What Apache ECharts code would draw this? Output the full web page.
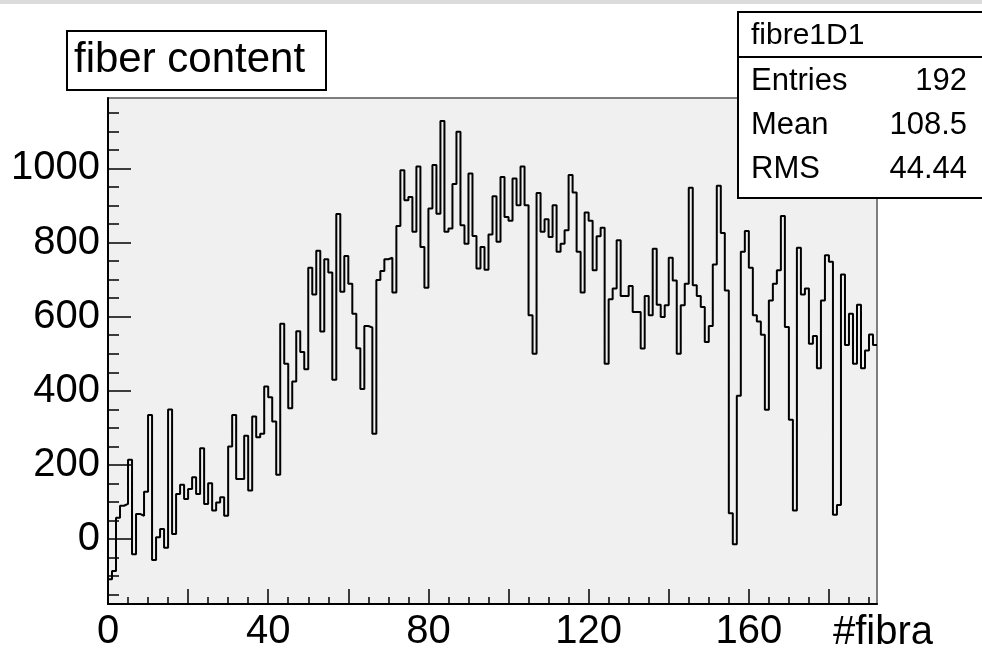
<!DOCTYPE html>
<html>
<head>
<meta charset="utf-8">
<script src="https://cdn.jsdelivr.net/npm/echarts@6/dist/echarts.min.js"></script>
<style>
html,body{margin:0;padding:0;background:#fff;}
#main{width:982px;height:655px;}
</style>
</head>
<body>
<div id="main"></div>
<script>
// Histogram "fibre1D1": content of each fibre bin (bin i spans [i, i+1))
const binContents = [
  -108, -86, 58, 90, 95, 214, -41, 68, 63, 128, 335, -56, 5, 27, -23, 350,
  14, 122, 147, 108, 135, 167, 122, 245, 95, 151, 77, 99, 113, 63, 250, 335,
  162, 162, 279, 131, 331, 275, 284, 412, 383, 317, 174, 581, 473, 353, 425, 561,
  505, 458, 732, 660, 778, 560, 755, 719, 430, 877, 667, 764, 689, 608, 515, 405,
  575, 571, 284, 699, 723, 755, 759, 665, 845, 995, 914, 923, 829, 1005, 788, 678,
  892, 1009, 878, 1128, 829, 838, 958, 1099, 847, 797, 986, 818, 730, 788, 727, 822,
  925, 802, 977, 869, 859, 973, 901, 1005, 901, 604, 500, 934, 829, 863, 815, 901,
  775, 797, 833, 982, 935, 775, 665, 881, 859, 725, 817, 840, 473, 647, 676, 806,
  656, 656, 683, 613, 613, 514, 656, 604, 783, 632, 599, 631, 759, 698, 500, 631,
  689, 948, 685, 656, 626, 532, 575, 741, 953, 826, 671, 70, -14, 387, 775, 831,
  732, 604, 587, 551, 349, 644, 689, 725, 872, 572, 322, 77, 786, 660, 676, 527,
  548, 461, 644, 766, 748, 66, 92, 714, 524, 608, 473, 632, 461, 509, 552, 524
];
const xMin = 0, xMax = 192;
const yMin = -175, yMax = 1190;
const xLabelValues = [0, 40, 80, 120, 160];
const xMajorTicks = [0, 20, 40, 60, 80, 100, 120, 140, 160, 180];
const xMinorTicks = [5,10,15,25,30,35,45,50,55,65,70,75,85,90,95,105,110,115,125,130,135,145,150,155,165,170,175,185,190];
const yLabelValues = [0, 200, 400, 600, 800, 1000];
const yMinorTicks = [-150,-100,-50,50,100,150,250,300,350,450,500,550,650,700,750,850,900,950,1050,1100,1150];
const titleText = 'fiber content';
const xTitle = '#fibra';
const statsName = 'fibre1D1';
const statsRows = [['Entries', '192'], ['Mean', '108.5'], ['RMS', '44.44']];

// step outline: point at each bin's left edge, plus closing point at the right edge
const stepData = binContents.map((v, i) => [i, v]);
stepData.push([binContents.length, binContents[binContents.length - 1]]);

const FONT = '"Liberation Sans", Arial, Helvetica, sans-serif';
const plainNumber = v => String(v);
const chart = echarts.init(document.getElementById('main'), null, {renderer: 'canvas'});

const statsGraphics = [];
statsGraphics.push({type: 'rect', shape: {x: 738, y: 12, width: 260, height: 186},
  style: {fill: '#fff', stroke: '#000', lineWidth: 2}, z: 10});
statsGraphics.push({type: 'line', shape: {x1: 738, y1: 57, x2: 990, y2: 57},
  style: {stroke: '#000', lineWidth: 2}, z: 11});
statsGraphics.push({type: 'text', x: 751, y: 36, z: 12,
  style: {text: statsName, font: '30px ' + FONT, fill: '#000', verticalAlign: 'middle', align: 'left'}});
statsRows.forEach((r, i) => {
  const y = 81 + i * 44.2;
  statsGraphics.push({type: 'text', x: 751, y: y, z: 12,
    style: {text: r[0], font: '31px ' + FONT, fill: '#000', verticalAlign: 'middle', align: 'left'}});
  statsGraphics.push({type: 'text', x: 967, y: y, z: 12,
    style: {text: r[1], font: '31px ' + FONT, fill: '#000', verticalAlign: 'middle', align: 'right'}});
});

const option = {
  animation: false,
  backgroundColor: '#fff',
  title: {
    text: titleText,
    left: 67, top: 31,
    borderColor: '#000', borderWidth: 2,
    backgroundColor: '#fff',
    padding: [8, 21, 9, 7],
    textStyle: {fontFamily: FONT, fontSize: 42, fontWeight: 'normal', color: '#000'}
  },
  grid: {
    left: 108, right: 105, top: 98, bottom: 51,
    show: true, backgroundColor: '#f0f0f0', borderColor: '#555', borderWidth: 1.5
  },
  xAxis: [
    {
      type: 'value', min: xMin, max: xMax, position: 'bottom',
      axisLine: {show: true, onZero: false, lineStyle: {color: '#000', width: 2}},
      axisTick: {show: true, inside: true, length: 15, customValues: xMajorTicks, lineStyle: {color: '#000', width: 1.5}},
      axisLabel: {show: true, customValues: xLabelValues, formatter: plainNumber, margin: 8, fontFamily: FONT, fontSize: 40, color: '#000'},
      splitLine: {show: false}
    },
    {
      type: 'value', min: xMin, max: xMax, position: 'bottom',
      axisLine: {show: false, onZero: false},
      axisTick: {show: true, inside: true, length: 7, customValues: xMinorTicks, lineStyle: {color: '#000', width: 1.5}},
      axisLabel: {show: false},
      splitLine: {show: false}
    }
  ],
  yAxis: [
    {
      type: 'value', min: yMin, max: yMax, position: 'left',
      axisLine: {show: true, onZero: false, lineStyle: {color: '#000', width: 2}},
      axisTick: {show: true, inside: true, length: 23, customValues: yLabelValues, lineStyle: {color: '#000', width: 1.5}},
      axisLabel: {show: true, customValues: yLabelValues, formatter: plainNumber, margin: 8, fontFamily: FONT, fontSize: 40, color: '#000'},
      splitLine: {show: false}
    },
    {
      type: 'value', min: yMin, max: yMax, position: 'left', offset: 0,
      axisLine: {show: false, onZero: false},
      axisTick: {show: true, inside: true, length: 11, customValues: yMinorTicks, lineStyle: {color: '#000', width: 1.5}},
      axisLabel: {show: false},
      splitLine: {show: false}
    }
  ],
  series: [{
    name: statsName,
    type: 'line',
    step: 'end',
    data: stepData,
    xAxisIndex: 0, yAxisIndex: 0,
    showSymbol: false,
    symbol: 'none',
    lineStyle: {color: '#000', width: 2},
    z: 3
  }],
  graphic: [
    {type: 'rect', shape: {x: 0, y: 0, width: 982, height: 4}, style: {fill: '#dcdcdc'}, z: 20},
    {type: 'text', x: 833, y: 633, z: 12,
     style: {text: xTitle, font: '40px ' + FONT, fill: '#000', verticalAlign: 'middle', align: 'left'}}
  ].concat(statsGraphics)
};
chart.setOption(option);
</script>
</body>
</html>
